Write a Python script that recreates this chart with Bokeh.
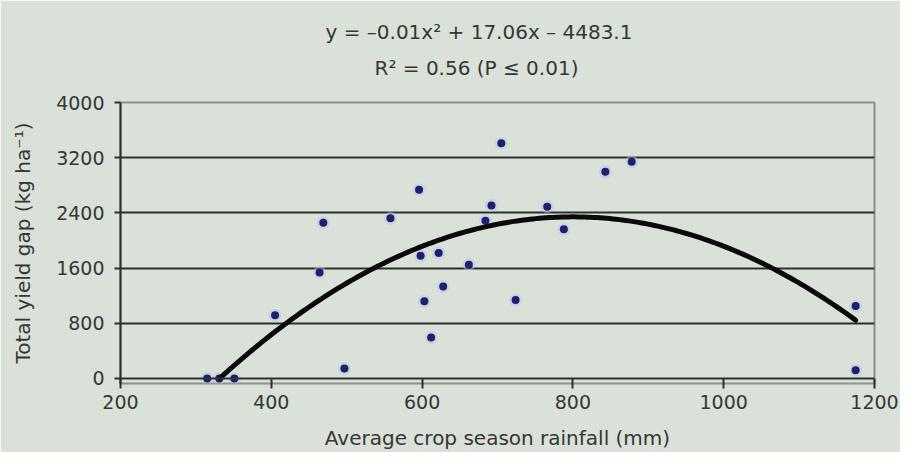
import numpy as np
from bokeh.plotting import figure
from bokeh.models import Range1d, FixedTicker, Span, Title
from bokeh.embed import file_html
from bokeh.resources import INLINE

# ---- data ----
rainfall = [315, 331, 351, 405, 464, 469, 497, 558, 596, 598, 603, 612, 622, 628,
            662, 684, 692, 705, 724, 766, 788, 843, 878, 1175, 1175]
yield_gap = [0, 0, 0, 918, 1536, 2256, 145, 2322, 2734, 1778, 1118, 594, 1820, 1333,
             1650, 2285, 2508, 3408, 1137, 2490, 2162, 2995, 3140, 1052, 120]

# fitted trend (coefficients of the chart's equation; a is the unrounded value)
coef_a = -0.01066
coef_b = 17.06
coef_c = -4483.1
trend_start, trend_end = 332, 1175

x_ticks = [200, 400, 600, 800, 1000, 1200]
y_ticks = [0, 800, 1600, 2400, 3200, 4000]
grid_lines = [800, 1600, 2400, 3200]

eq_text = "y = \u20130.01x\u00b2 + 17.06x \u2013 4483.1"
r2_text = "R\u00b2 = 0.56 (P \u2264 0.01)"
x_title = "Average crop season rainfall (mm)"
y_title = "Total yield gap (kg ha\u207b\u00b9)"

BG = "#d9e1d9"
TXT = "#363636"
FONT = "DejaVu Sans"

p = figure(width=900, height=452, output_backend="svg", toolbar_location=None,
           x_range=Range1d(200, 1200), y_range=Range1d(-72.5, 4000),
           min_border_left=120, min_border_right=26, min_border_top=102,
           min_border_bottom=69)
p.background_fill_color = BG
p.border_fill_color = BG
p.outline_line_color = "#8c918c"
p.outline_line_width = 2

# grid
p.xgrid.visible = False
p.ygrid.ticker = FixedTicker(ticks=grid_lines)
p.ygrid.grid_line_color = "#2e302e"
p.ygrid.grid_line_width = 2

# x axis
xa = p.xaxis[0]
xa.ticker = FixedTicker(ticks=x_ticks)
xa.axis_line_color = None
xa.major_tick_in = 5
xa.major_tick_out = 5
xa.major_tick_line_color = "#2e302e"
xa.major_tick_line_width = 2
xa.minor_tick_line_color = None
xa.major_label_standoff = 6
xa.major_label_text_font = FONT
xa.major_label_text_font_size = "19px"
xa.major_label_text_color = TXT
xa.axis_label = x_title
xa.axis_label_text_font = FONT
xa.axis_label_text_font_size = "20px"
xa.axis_label_text_font_style = "normal"
xa.axis_label_text_color = TXT
xa.axis_label_standoff = 14

# y axis
ya = p.yaxis[0]
ya.ticker = FixedTicker(ticks=y_ticks)
ya.axis_line_color = "#2e302e"
ya.axis_line_width = 2
ya.major_tick_in = 0
ya.major_tick_out = 6
ya.major_tick_line_color = "#2e302e"
ya.major_tick_line_width = 2
ya.minor_tick_line_color = None
ya.major_label_standoff = 10
ya.major_label_text_font = FONT
ya.major_label_text_font_size = "19px"
ya.major_label_text_color = TXT
ya.axis_label = y_title
ya.axis_label_text_font = FONT
ya.axis_label_text_font_size = "20px"
ya.axis_label_text_font_style = "normal"
ya.axis_label_text_color = TXT
ya.axis_label_standoff = 18

# x axis line at y = 0
p.add_layout(Span(location=0, dimension="width", line_color="#2e302e", line_width=2))

# points
p.scatter(rainfall, yield_gap, size=13, fill_color="#bcc0e6", fill_alpha=0.45,
          line_color=None)
p.scatter(rainfall, yield_gap, size=8, fill_color="#1e1f6e", line_color=None)

# trend curve
xs = np.linspace(trend_start, trend_end, 200)
ys = coef_a * xs ** 2 + coef_b * xs + coef_c
p.line(xs, ys, line_color="#0a0a0a", line_width=5, line_cap="round")

# equation text (second line added first: it sits nearest the frame)
p.add_layout(Title(text=r2_text, align="left", offset=254, standoff=46,
                   text_font=FONT, text_font_size="20px",
                   text_font_style="normal", text_color=TXT), "above")
p.add_layout(Title(text=eq_text, align="left", offset=205, standoff=-27,
                   text_font=FONT, text_font_size="20px",
                   text_font_style="normal", text_color=TXT), "above")

open("out.html", "w").write(file_html(p, INLINE))
